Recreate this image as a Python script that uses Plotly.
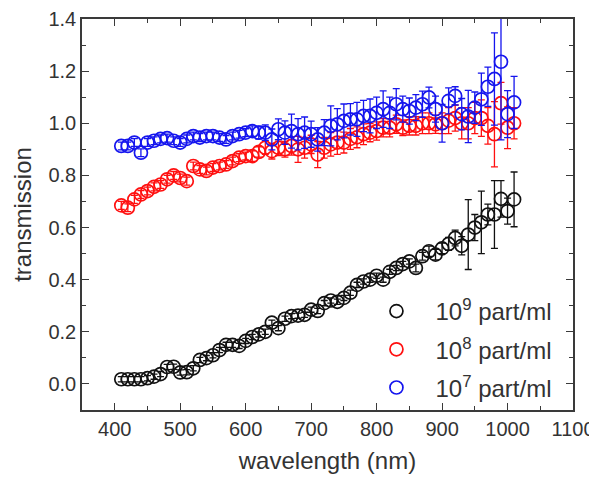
import plotly.graph_objects as go

wavelength = [410 + 10 * i for i in range(61)]

t_1e9 = [0.018, 0.018, 0.018, 0.018, 0.022, 0.028, 0.038, 0.065, 0.066, 0.044,
         0.045, 0.060, 0.092, 0.099, 0.110, 0.130, 0.150, 0.150, 0.146, 0.165,
         0.180, 0.190, 0.200, 0.235, 0.214, 0.250, 0.260, 0.262, 0.265, 0.285,
         0.280, 0.310, 0.320, 0.315, 0.330, 0.350, 0.380, 0.393, 0.400, 0.415,
         0.400, 0.430, 0.445, 0.460, 0.470, 0.445, 0.490, 0.509, 0.496, 0.520,
         0.537, 0.560, 0.530, 0.573, 0.600, 0.620, 0.650, 0.650, 0.710, 0.663,
         0.708]
e_1e9 = [0.01] * 45 + [0.015, 0.015, 0.02, 0.02, 0.02,
                       0.025, 0.03, 0.035, 0.134, 0.05, 0.12, 0.04, 0.13, 0.07, 0.05,
                       0.105]

t_1e8 = [0.685, 0.676, 0.708, 0.727, 0.740, 0.756, 0.765, 0.785, 0.800, 0.790,
         0.778, 0.836, 0.823, 0.817, 0.830, 0.836, 0.842, 0.855, 0.868, 0.874,
         0.874, 0.890, 0.906, 0.893, 0.906, 0.900, 0.913, 0.900, 0.906, 0.919,
         0.880, 0.906, 0.919, 0.926, 0.926, 0.940, 0.946, 0.958, 0.964, 0.970,
         0.983, 0.983, 0.996, 0.983, 0.990, 0.990, 1.000, 1.000, 0.996, 1.000,
         1.010, 1.020, 1.000, 1.000, 1.020, 1.020, 0.990, 0.958, 1.077, 0.983,
         1.000]
e_1e8 = [0.015] * 20 + [0.02, 0.02, 0.025, 0.03, 0.03, 0.03, 0.035, 0.05, 0.04, 0.035,
                        0.05, 0.04, 0.045, 0.045, 0.04, 0.04, 0.04, 0.04, 0.035, 0.035,
                        0.035, 0.035, 0.035, 0.03, 0.035, 0.035, 0.04, 0.04, 0.035, 0.04,
                        0.05, 0.05, 0.06, 0.06, 0.06, 0.07, 0.07, 0.125, 0.08, 0.08,
                        0.06]

t_1e7 = [0.913, 0.913, 0.926, 0.887, 0.926, 0.933, 0.940, 0.943, 0.933, 0.926,
         0.940, 0.951, 0.945, 0.951, 0.951, 0.945, 0.938, 0.951, 0.958, 0.964,
         0.970, 0.964, 0.964, 0.938, 0.977, 0.964, 0.970, 0.958, 0.964, 0.958,
         0.938, 0.964, 0.990, 0.996, 1.009, 1.015, 1.015, 1.028, 1.028, 1.040,
         1.054, 1.040, 1.073, 1.054, 1.047, 1.060, 1.073, 1.099, 1.054, 1.000,
         1.086, 1.105, 1.035, 1.026, 1.060, 1.092, 1.140, 1.170, 1.236, 1.035,
         1.080]
e_1e7 = [0.015] * 20 + [0.02, 0.025, 0.03, 0.04, 0.04, 0.045, 0.065, 0.06, 0.06, 0.05,
                        0.045, 0.05, 0.077, 0.06, 0.065, 0.06, 0.065, 0.06, 0.065, 0.06,
                        0.07, 0.06, 0.06, 0.05, 0.05, 0.05, 0.05, 0.04, 0.05, 0.072,
                        0.05, 0.035, 0.06, 0.1, 0.06, 0.1, 0.075, 0.177, 0.3, 0.09,
                        0.1]

series = [
    ("10<sup>9</sup> part/ml", t_1e9, e_1e9, "#111111"),
    ("10<sup>8</sup> part/ml", t_1e8, e_1e8, "#ff1010"),
    ("10<sup>7</sup> part/ml", t_1e7, e_1e7, "#1515ee"),
]

x_ticks = [400, 500, 600, 700, 800, 900, 1000, 1100]
y_ticks = [0.0, 0.2, 0.4, 0.6, 0.8, 1.0, 1.2, 1.4]

FONT = "Liberation Sans, Arial, sans-serif"

fig = go.Figure()
for i, (name, y, e, c) in enumerate(series):
    fig.add_trace(go.Scatter(
        x=wavelength, y=y, name=name, mode="markers", legendgroup=str(i),
        marker=dict(symbol="circle-open", size=13, color=c, line=dict(width=1.7, color=c)),
        error_y=dict(type="data", array=e, visible=True, color=c, thickness=1.3, width=3.5),
    ))

axis_common = dict(
    showline=True, linecolor="#3a3a3a", linewidth=1.5, mirror="ticks",
    ticks="inside", ticklen=7, tickwidth=1.3, tickcolor="#3a3a3a",
    showgrid=False, zeroline=False, automargin=False,
    tickfont=dict(family=FONT, size=20, color="#333"),
    title_font=dict(family=FONT, size=24, color="#333"),
)

fig.update_xaxes(
    range=[350, 1100], tickvals=x_ticks, ticktext=[str(v) for v in x_ticks],
    minor=dict(dtick=50, tick0=350, ticks="inside", ticklen=4, tickcolor="#3a3a3a", showgrid=False),
    title_text="wavelength (nm)", title_standoff=13, **axis_common)
fig.update_yaxes(
    range=[-0.1, 1.4], tickvals=y_ticks, ticktext=[f"{v:.1f}" for v in y_ticks],
    minor=dict(dtick=0.1, tick0=-0.1, ticks="inside", ticklen=4, tickcolor="#3a3a3a", showgrid=False),
    title_text="transmission", title_standoff=10, **axis_common)

# the page body adds an 8px offset; margins compensate so the plot box lands at
# x 82..573, y 19..410 in the window
fig.update_layout(
    width=597, height=477,
    margin=dict(l=74, r=32, t=11, b=75),
    plot_bgcolor="white", paper_bgcolor="white",
    font=dict(family=FONT, color="#333"),
    showlegend=True,
    legend=dict(x=0.561, y=0.0, xanchor="left", yanchor="bottom",
                bgcolor="rgba(0,0,0,0)", itemwidth=68, tracegroupgap=4,
                font=dict(family=FONT, size=24, color="#333")),
)

fig.write_html("out.html")
